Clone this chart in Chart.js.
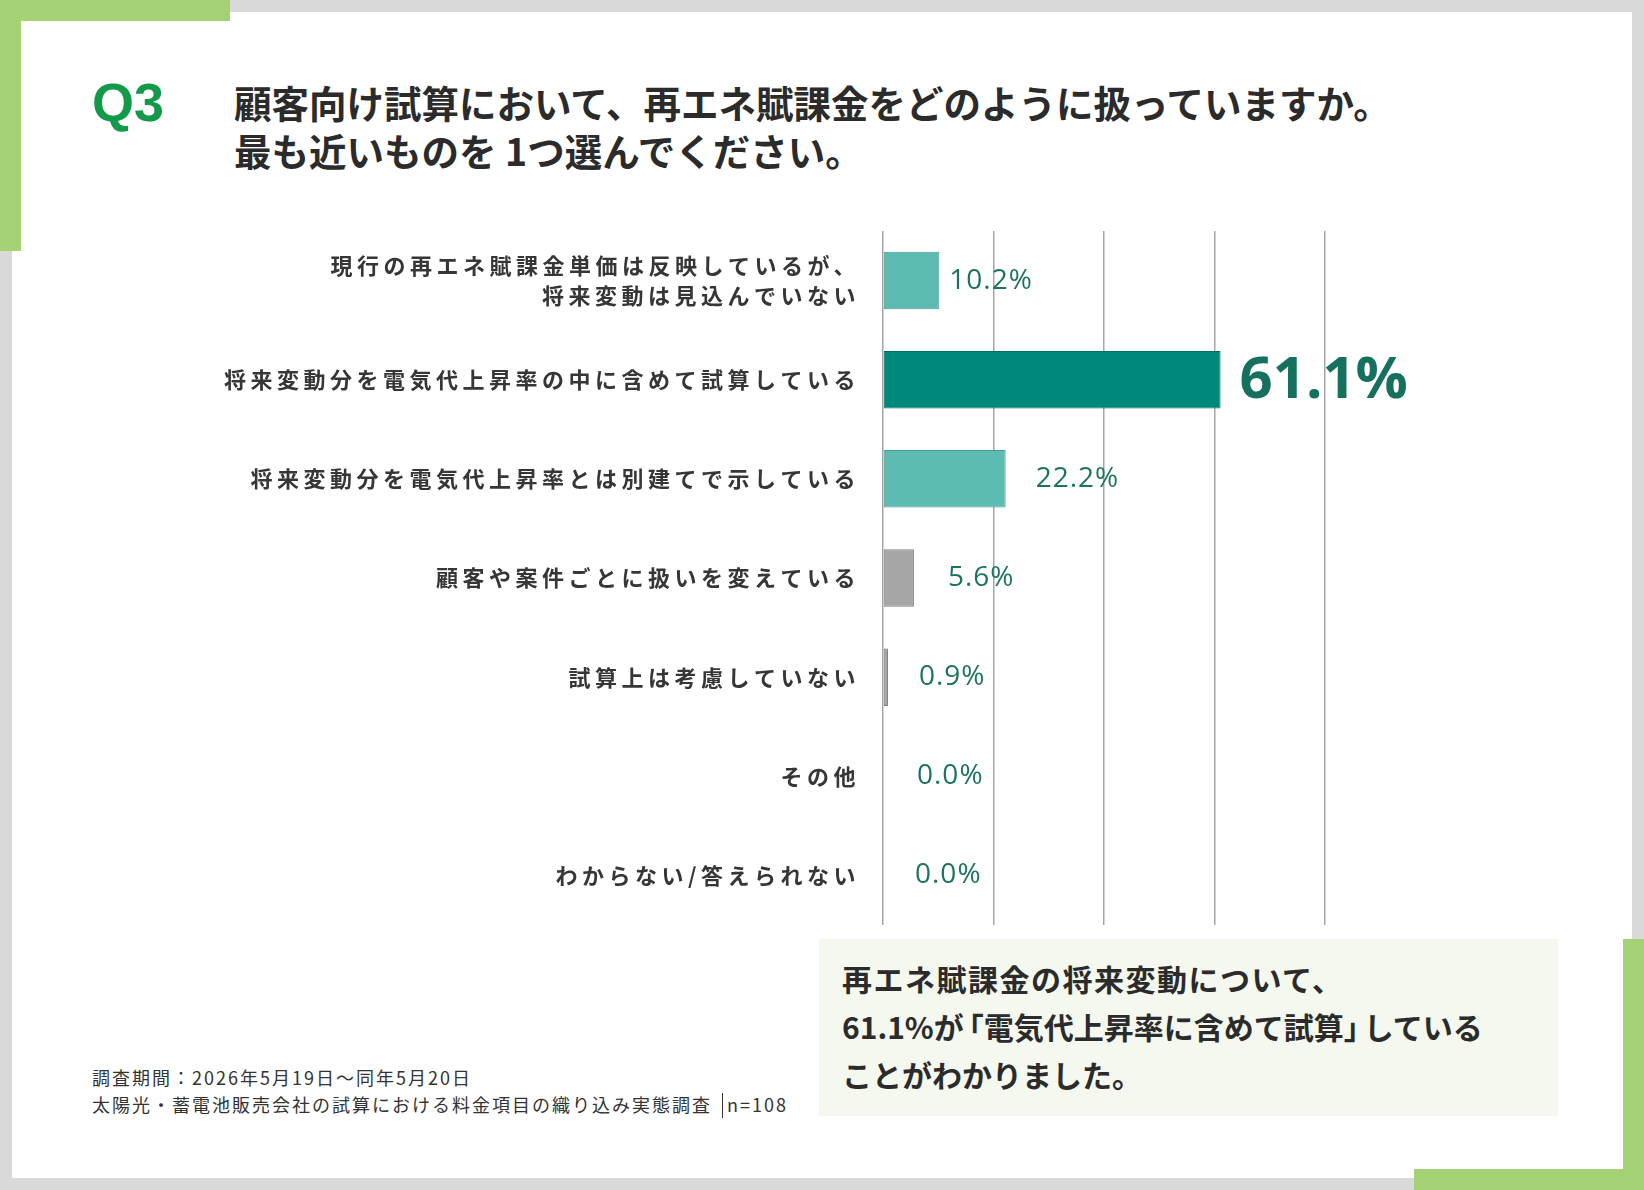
<!DOCTYPE html>
<html lang="ja">

<head>
    <meta charset="UTF-8" />
    <title>Q3 再エネ賦課金の扱い</title>
    <script src="https://cdn.jsdelivr.net/npm/chart.js"></script>
    <style>
        html, body { margin: 0; padding: 0; }
        body {
            width: 1644px; height: 1190px; position: relative; overflow: hidden;
            background: #d9d9d9;
            font-family: "Noto Sans CJK JP", "Noto Sans", sans-serif;
            color: #2b2b2b;
        }
        .abs { position: absolute; }
        .panel { left: 12px; top: 12px; width: 1620px; height: 1166px; background: #fff; }
        .accent { background: #a3d174; }
        .q { left: 92px; top: 75px; font: bold 54px/54px "Liberation Sans", Arial, sans-serif; color: #12994a; }
        .title { left: 234px; top: 78px; font-size: 37.5px; line-height: 48px; font-weight: bold; white-space: nowrap; }
        .note { left: 92px; top: 1064px; font-size: 18px; line-height: 27px; letter-spacing: 2px; color: #333; white-space: nowrap; }
        .sep { display: inline-block; border-left: 1.5px solid #333; height: 25px; vertical-align: -6px; margin: 0 4px 0 10px; }
        .summary { left: 819px; top: 939px; width: 739px; height: 177px; background: #f4f8ee; }
        .summary div { padding: 15px 0 0 23px; font-size: 30px; line-height: 48px; font-weight: bold; white-space: nowrap; }
        .wide { letter-spacing: 1.5px; }
        .open { margin-left: -10px; }
        .close { margin-right: -10px; }
        #chartWrap { left: 0; top: 0; width: 1644px; height: 1190px; }
    </style>
</head>

<body>
    <div class="abs panel"></div>
    <div class="abs accent" style="left:0;top:0;width:230px;height:21px;"></div>
    <div class="abs accent" style="left:0;top:0;width:21px;height:251px;"></div>
    <div class="abs accent" style="left:1623px;top:939px;width:21px;height:251px;"></div>
    <div class="abs accent" style="left:1414px;top:1169px;width:230px;height:21px;"></div>

    <div class="abs q">Q3</div>
    <div class="abs title">顧客向け試算において、再エネ賦課金をどのように扱っていますか。<br>最も近いものを 1つ選んでください。</div>

    <div class="abs summary">
        <div><span class="wide">再エネ賦課金の将来変動について、</span><br>61.1%が<span class="open">「</span>電気代上昇率に含めて試算<span class="close">」</span>している<br>ことがわかりました。</div>
    </div>

    <div class="abs note">調査期間：2026年5月19日～同年5月20日<br>太陽光・蓄電池販売会社の試算における料金項目の織り込み実態調査<span class="sep"></span>n=108</div>

    <div class="abs" id="chartWrap">
        <canvas id="chart" width="1644" height="1190"></canvas>
    </div>

    <script>
        // answer choices, top to bottom
        const categories = [
            ["現行の再エネ賦課金単価は反映しているが、", "将来変動は見込んでいない"],
            "将来変動分を電気代上昇率の中に含めて試算している",
            "将来変動分を電気代上昇率とは別建てで示している",
            "顧客や案件ごとに扱いを変えている",
            "試算上は考慮していない",
            "その他",
            "わからない/答えられない"
        ];
        // share of respondents (%)
        const shares = [10.2, 61.1, 22.2, 5.6, 0.9, 0.0, 0.0];
        const highlightIndex = 1;

        const barFill = ["#5dbcb1", "#00897a", "#5dbcb1", "#a6a6a6", "#a6a6a6", "#a6a6a6", "#a6a6a6"];
        const barLine = ["#4a9c92", "#006e61", "#4a9c92", "#808080", "#7a7a7a", "#7a7a7a", "#7a7a7a"];
        const labelGap = [10, 19, 30, 34, 31, 34, 32];

        // wider tracking for the category labels only
        const tracking = {
            id: "tracking",
            beforeDraw(chart) { chart.ctx.letterSpacing = "4.5px"; },
            beforeDatasetsDraw(chart) { chart.ctx.letterSpacing = "0px"; }
        };

        // percentage labels next to each bar
        const valueLabels = {
            id: "valueLabels",
            afterDatasetsDraw(chart) {
                const ctx = chart.ctx;
                const meta = chart.getDatasetMeta(0);
                ctx.save();
                ctx.textAlign = "left";
                ctx.textBaseline = "middle";
                meta.data.forEach((bar, i) => {
                    const big = i === highlightIndex;
                    ctx.font = big ? 'bold 58px "Open Sans"' : '28px "Open Sans"';
                    ctx.letterSpacing = big ? "0px" : "1px";
                    ctx.fillStyle = big ? "#16705e" : "#1d7362";
                    ctx.fillText(shares[i].toFixed(1) + "%", bar.x + labelGap[i], bar.y + (big ? 2 : 0));
                });
                ctx.restore();
            }
        };

        new Chart(document.getElementById("chart"), {
            type: "bar",
            data: {
                labels: categories,
                datasets: [{
                    data: shares,
                    backgroundColor: barFill,
                    borderColor: barLine,
                    borderWidth: 1,
                    borderSkipped: false,
                    barPercentage: 0.58,
                    categoryPercentage: 1
                }]
            },
            options: {
                indexAxis: "y",
                responsive: false,
                animation: false,
                layout: { padding: { left: 150, top: 231, right: 319, bottom: 265 } },
                plugins: { legend: { display: false }, tooltip: { enabled: false } },
                scales: {
                    x: {
                        min: 0,
                        max: 80,
                        ticks: { stepSize: 20, display: false },
                        grid: { color: "#a6a6a6", lineWidth: 1.5, drawTicks: false },
                        border: { display: false },
                        afterFit(scale) { scale.height = 0; }
                    },
                    y: {
                        grid: { display: false, drawTicks: false },
                        border: { display: false },
                        ticks: {
                            color: "#363636",
                            padding: 23,
                            font: { family: '"Noto Sans CJK JP"', size: 22, weight: "bold", lineHeight: 1.35 }
                        },
                        afterFit(scale) { scale.width = 733; }
                    }
                }
            },
            plugins: [tracking, valueLabels]
        });
    </script>
</body>

</html>
